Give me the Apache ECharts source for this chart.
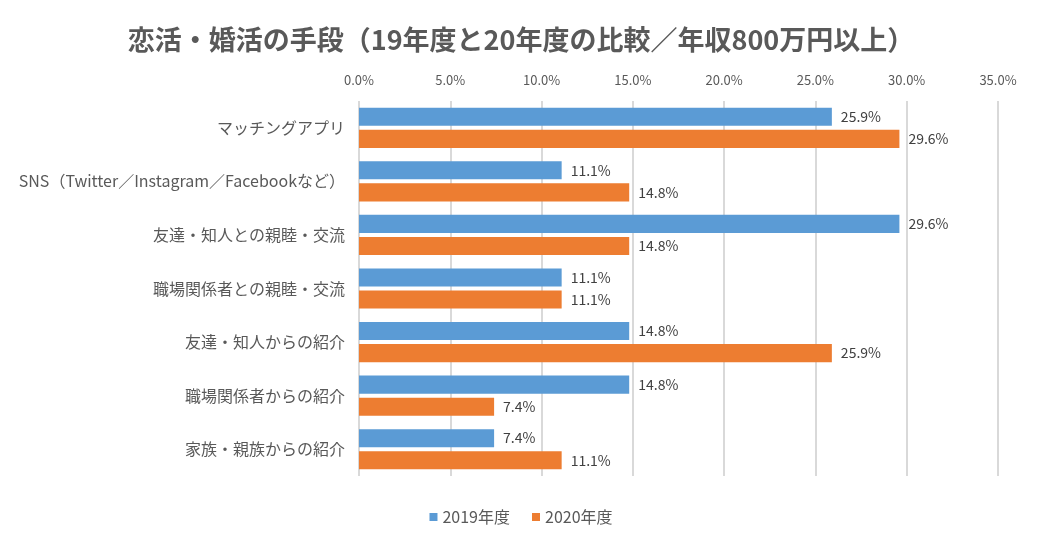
<!DOCTYPE html>
<html><head><meta charset="utf-8">
<script src="https://cdn.jsdelivr.net/npm/echarts@6/dist/echarts.min.js"></script>
<style>html,body{margin:0;padding:0;background:#fff}#c{width:1042px;height:543px}</style>
</head><body><div id="c"></div>
<script>
const categories = ['マッチングアプリ','SNS（Twitter／Instagram／Facebookなど）','友達・知人との親睦・交流','職場関係者との親睦・交流','友達・知人からの紹介','職場関係者からの紹介','家族・親族からの紹介'];
const seriesNames = ['2019年度','2020年度'];
const values2019 = [25.9, 11.1, 29.6, 11.1, 14.8, 14.8, 7.4];
const values2020 = [29.6, 14.8, 14.8, 11.1, 25.9, 7.4, 11.1];
const titleText = '恋活・婚活の手段（19年度と20年度の比較／年収800万円以上）';
const FONT = '"Noto Sans CJK JP", "Noto Sans", sans-serif';
const chart = echarts.init(document.getElementById('c'), null, {renderer:'canvas'});
const lbl = {show:true, position:'right', distance:9, color:'#404040', fontSize:14, fontFamily:FONT, formatter: p => p.value.toFixed(1)+'%'};
chart.setOption({
  animation:false,
  textStyle:{fontFamily:FONT},
  title:{text:titleText, left:'center', top:21, textStyle:{fontSize:27, fontWeight:'bold', color:'#595959', fontFamily:FONT}},
  legend:{bottom:13, left:'center', itemWidth:8, itemHeight:8, itemGap:22, icon:'rect', textStyle:{fontSize:16, color:'#595959', fontFamily:FONT}, data:seriesNames},
  grid:{left:359, right:44, top:101, bottom:67, containLabel:false},
  xAxis:{type:'value', position:'top', min:0, max:35, interval:5,
    axisLabel:{formatter: v => v.toFixed(1)+'%', color:'#595959', fontSize:13, margin:14, fontFamily:FONT},
    splitLine:{lineStyle:{color:'#D9D9D9', width:2}}, axisLine:{show:false}, axisTick:{show:false}},
  yAxis:{type:'category', inverse:true, data:categories,
    axisLabel:{color:'#595959', fontSize:16, margin:14, fontFamily:FONT},
    axisLine:{show:false}, axisTick:{show:false}},
  series:[
    {name:seriesNames[0], type:'bar', data:values2019, itemStyle:{color:'#5B9BD5'}, barGap:'22%', barCategoryGap:'25%', label:lbl},
    {name:seriesNames[1], type:'bar', data:values2020, itemStyle:{color:'#ED7D31'}, barGap:'22%', barCategoryGap:'25%', label:lbl}
  ]
});
</script></body></html>
